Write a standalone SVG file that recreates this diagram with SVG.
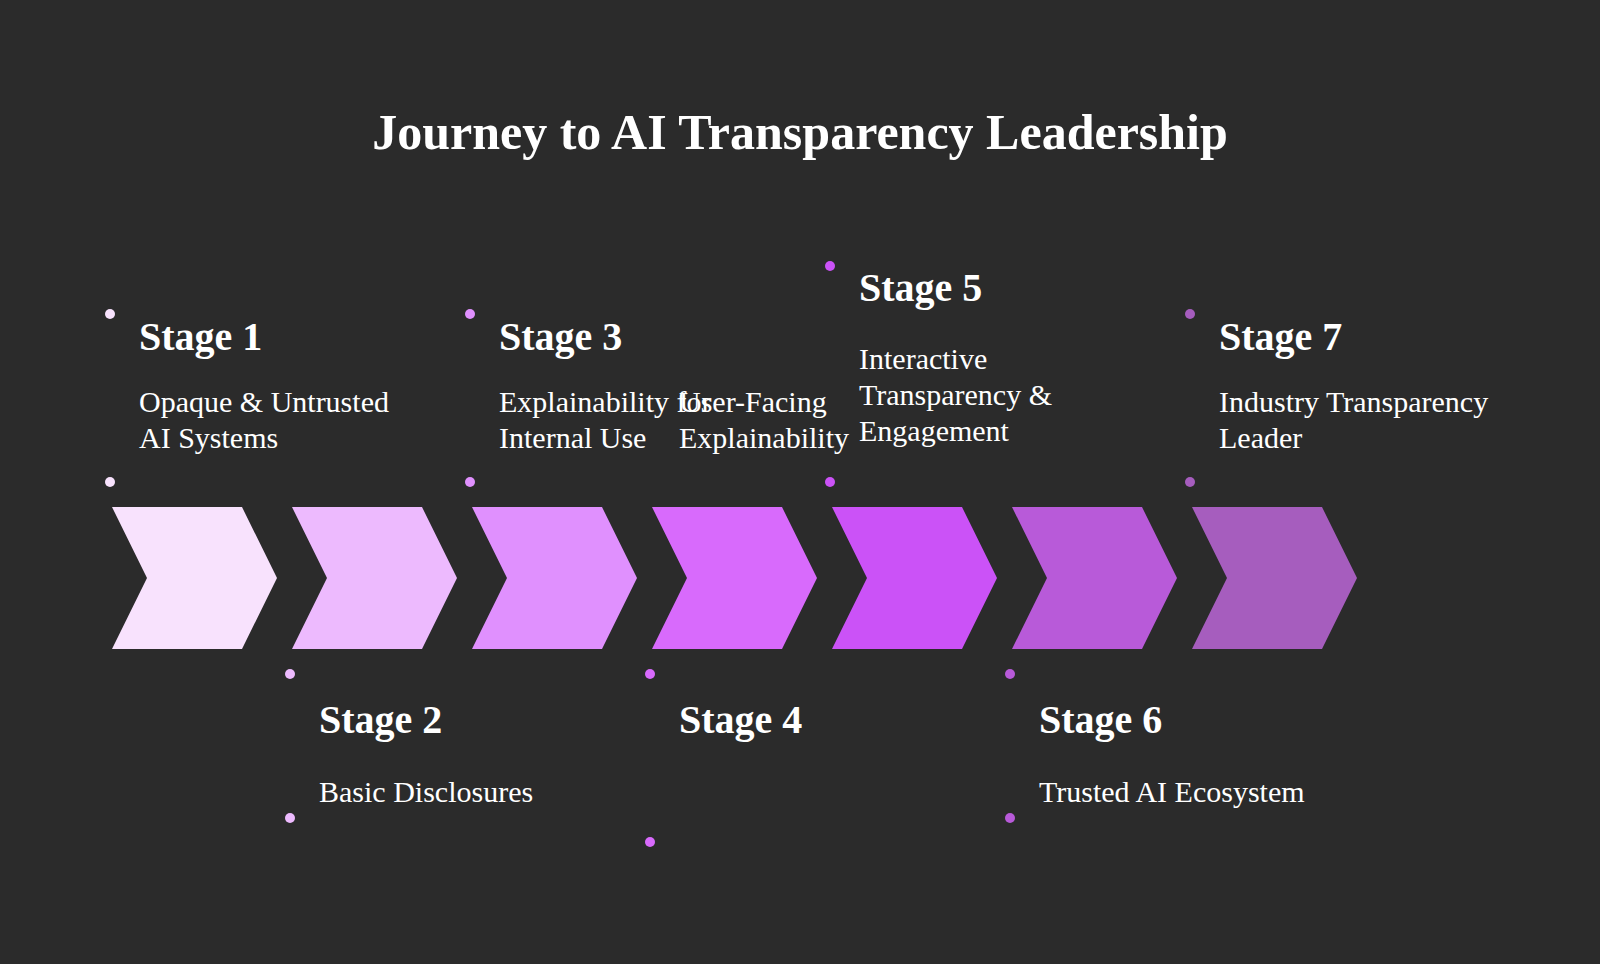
<svg xmlns="http://www.w3.org/2000/svg" width="1600" height="964" viewBox="0 0 1600 964">
  <defs>
    <style>
      .title { font-family: "Liberation Serif", "Times New Roman", serif; font-weight: bold; font-size: 50px; fill: #ffffff; }
      .stage { font-family: "Liberation Serif", "Times New Roman", serif; font-weight: bold; font-size: 40px; fill: #ffffff; }
      .desc { font-family: "Liberation Serif", "Times New Roman", serif; font-size: 30px; fill: #ffffff; }
      .c1 { fill: #F8E2FD; }
      .c2 { fill: #EDBAFE; }
      .c3 { fill: #E090FE; }
      .c4 { fill: #D86AFC; }
      .c5 { fill: #CB52F7; }
      .c6 { fill: #B85AD9; }
      .c7 { fill: #A65DBE; }
    </style>
    <path id="chev" d="M0,507 L130,507 L165,578 L130,649 L0,649 L35,578 Z"/>
  </defs>
  <rect x="0" y="0" width="1600" height="964" fill="#2B2B2B"/>
  <text class="title" x="800" y="149" text-anchor="middle">Journey to AI Transparency Leadership</text>

  <g id="connectors"></g>

  <g id="stage1">
    <use href="#chev" x="112" class="c1"/>
    <circle cx="110" cy="314" r="5" class="c1"/>
    <circle cx="110" cy="482" r="5" class="c1"/>
    <text class="stage" x="139" y="350">Stage 1</text>
    <text class="desc" x="139" y="412">Opaque &amp; Untrusted</text>
    <text class="desc" x="139" y="448">AI Systems</text>
  </g>

  <g id="stage2">
    <use href="#chev" x="292" class="c2"/>
    <circle cx="290" cy="674" r="5" class="c2"/>
    <circle cx="290" cy="818" r="5" class="c2"/>
    <text class="stage" x="319" y="733">Stage 2</text>
    <text class="desc" x="319" y="802">Basic Disclosures</text>
  </g>

  <g id="stage3">
    <use href="#chev" x="472" class="c3"/>
    <circle cx="470" cy="314" r="5" class="c3"/>
    <circle cx="470" cy="482" r="5" class="c3"/>
    <text class="stage" x="499" y="350">Stage 3</text>
    <text class="desc" x="499" y="412">Explainability for</text>
    <text class="desc" x="499" y="448">Internal Use</text>
  </g>

  <g id="stage4">
    <use href="#chev" x="652" class="c4"/>
    <circle cx="650" cy="674" r="5" class="c4"/>
    <circle cx="650" cy="842" r="5" class="c4"/>
    <text class="stage" x="679" y="733">Stage 4</text>
    <text class="desc" x="679" y="412">User-Facing</text>
    <text class="desc" x="679" y="448">Explainability</text>
  </g>

  <g id="stage5">
    <use href="#chev" x="832" class="c5"/>
    <circle cx="830" cy="266" r="5" class="c5"/>
    <circle cx="830" cy="482" r="5" class="c5"/>
    <text class="stage" x="859" y="301">Stage 5</text>
    <text class="desc" x="859" y="369">Interactive</text>
    <text class="desc" x="859" y="405">Transparency &amp;</text>
    <text class="desc" x="859" y="441">Engagement</text>
  </g>

  <g id="stage6">
    <use href="#chev" x="1012" class="c6"/>
    <circle cx="1010" cy="674" r="5" class="c6"/>
    <circle cx="1010" cy="818" r="5" class="c6"/>
    <text class="stage" x="1039" y="733">Stage 6</text>
    <text class="desc" x="1039" y="802">Trusted AI Ecosystem</text>
  </g>

  <g id="stage7">
    <use href="#chev" x="1192" class="c7"/>
    <circle cx="1190" cy="314" r="5" class="c7"/>
    <circle cx="1190" cy="482" r="5" class="c7"/>
    <text class="stage" x="1219" y="350">Stage 7</text>
    <text class="desc" x="1219" y="412">Industry Transparency</text>
    <text class="desc" x="1219" y="448">Leader</text>
  </g>
</svg>
